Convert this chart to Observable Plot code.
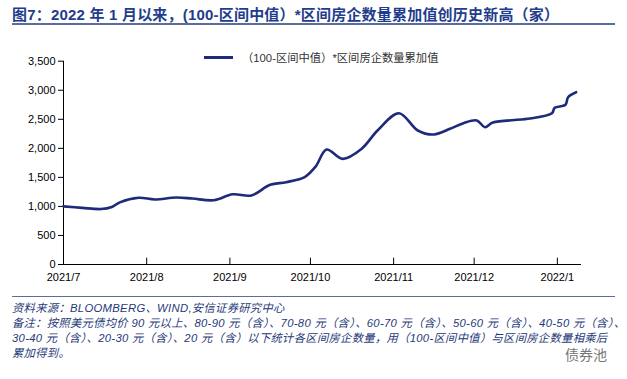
<!DOCTYPE html>
<html>
<head>
<meta charset="utf-8">
<script src="https://cdn.jsdelivr.net/npm/d3@7"></script>
<script src="https://cdn.jsdelivr.net/npm/@observablehq/plot@0.6"></script>
<style>
  html, body { margin: 0; padding: 0; background: #fff; }
  #wrap { position: relative; width: 627px; height: 379px; overflow: hidden; background: #fff; font-family: "Liberation Sans", Arial, "Noto Sans CJK SC", sans-serif; }
  #title { position: absolute; left: 12px; top: 3px; font-size: 15px; font-weight: bold; color: #1f3d8c; white-space: nowrap; letter-spacing: 0.2px; font-family: "Liberation Sans", Arial, "Noto Sans CJK SC", sans-serif; }
  #titleRule { position: absolute; left: 12px; top: 23px; width: 603px; height: 0; border-top: 2px solid #5b6d9e; }
  #chart { position: absolute; left: 0; top: 30px; }
  #legend { position: absolute; left: 204px; top: 49px; display: flex; align-items: center; font-size: 11.3px; color: #333; white-space: nowrap; font-family: "Liberation Sans", Arial, "Noto Sans CJK SC", sans-serif; }
  #legend .sw { width: 29px; height: 0; border-top: 3px solid #1f2b7a; margin-right: 9px; }
  #footRule { position: absolute; left: 12px; top: 296px; width: 603px; height: 0; border-top: 1.5px solid #5b6d9e; }
  #foot { position: absolute; left: 12px; top: 300.5px; font-size: 11.3px; line-height: 15px; letter-spacing: 0.3px; color: #1f3a7a; font-style: italic; white-space: nowrap; font-family: "Liberation Sans", Arial, "Noto Sans CJK SC", sans-serif; }
  #wm { position: absolute; left: 565px; top: 344px; font-size: 14px; color: #777; font-family: "Noto Sans CJK SC", sans-serif; }
</style>
</head>
<body>
<div id="wrap">
  <div id="title"></div>
  <div id="titleRule"></div>
  <div id="chart"></div>
  <div id="legend"><span class="sw"></span><span id="legendText"></span></div>
  <div id="footRule"></div>
  <div id="foot"></div>
  <div id="wm">债券池</div>
</div>
<script>
const titleText = "图7：2022 年 1 月以来，(100-区间中值）*区间房企数量累加值创历史新高（家）";
const seriesName = "（100-区间中值）*区间房企数量累加值";
const footLines = [
  "资料来源：BLOOMBERG、WIND,安信证券研究中心",
  "备注：按照美元债均价 90 元以上、80-90 元（含）、70-80 元（含）、60-70 元（含）、50-60 元（含）、40-50 元（含）、",
  "30-40 元（含）、20-30 元（含）、20 元（含）以下统计各区间房企数量，用（100-区间中值）与区间房企数量相乘后",
  "累加得到。"
];

const dates = [
  "2021-07-01","2021-07-08","2021-07-15","2021-07-19","2021-07-22","2021-07-29",
  "2021-08-04","2021-08-12","2021-08-18","2021-08-26","2021-09-02","2021-09-09",
  "2021-09-16","2021-09-22","2021-09-29","2021-10-03","2021-10-07","2021-10-13",
  "2021-10-20","2021-10-26","2021-11-03","2021-11-10","2021-11-16","2021-11-22",
  "2021-11-27","2021-12-02","2021-12-05","2021-12-08","2021-12-21","2021-12-30",
  "2021-12-31","2022-01-04","2022-01-05","2022-01-08"
];
const values = [
  1000, 975, 955, 990, 1070, 1148,
  1120, 1153, 1136, 1107, 1208, 1188,
  1372, 1417, 1510, 1690, 1980, 1819,
  1990, 2307, 2605, 2307, 2238, 2336,
  2433, 2480, 2364, 2444, 2508, 2605,
  2697, 2749, 2880, 2966
];
const xTicks = ["2021-07-01","2021-08-01","2021-09-01","2021-10-01","2021-11-01","2021-12-01","2022-01-01"];
const yTicks = [0, 500, 1000, 1500, 2000, 2500, 3000, 3500];
const xDomain = ["2021-07-01", "2022-01-10"];

document.getElementById("title").textContent = titleText;
document.getElementById("legendText").textContent = seriesName;
document.getElementById("foot").innerHTML = footLines.map(s => `<div>${s}</div>`).join("");

const parse = d3.utcParse("%Y-%m-%d");
const data = dates.map((d, i) => ({date: parse(d), value: values[i]}));
const tickDates = xTicks.map(parse);
const dom = xDomain.map(parse);

const chart = Plot.plot({
  width: 627,
  height: 262,
  marginTop: 30.7,
  marginBottom: 28,
  marginLeft: 63,
  marginRight: 46,
  style: {fontFamily: "Liberation Sans, Arial, sans-serif", fontSize: "11px", color: "#000", background: "transparent"},
  x: {type: "utc", domain: dom},
  y: {domain: [0, 3500]},
  marks: [
    Plot.axisY({ticks: yTicks, tickFormat: d3.format(","), tickSize: 5, tickPadding: 3, label: null, stroke: "#000"}),
    Plot.axisX({ticks: tickDates, tickFormat: d3.utcFormat("%Y/%-m"), tickSize: 0, tickPadding: 9, label: null}),
    Plot.ruleX(tickDates, {stroke: "#000", insetTop: 197}),
    Plot.ruleY([0], {stroke: "#000"}),
    Plot.ruleX([dom[0]], {stroke: "#000"}),
    Plot.line(data, {x: "date", y: "value", stroke: "#1f2b7a", strokeWidth: 2.6, curve: "catmull-rom"})
  ]
});
document.getElementById("chart").appendChild(chart);
</script>
</body>
</html>
